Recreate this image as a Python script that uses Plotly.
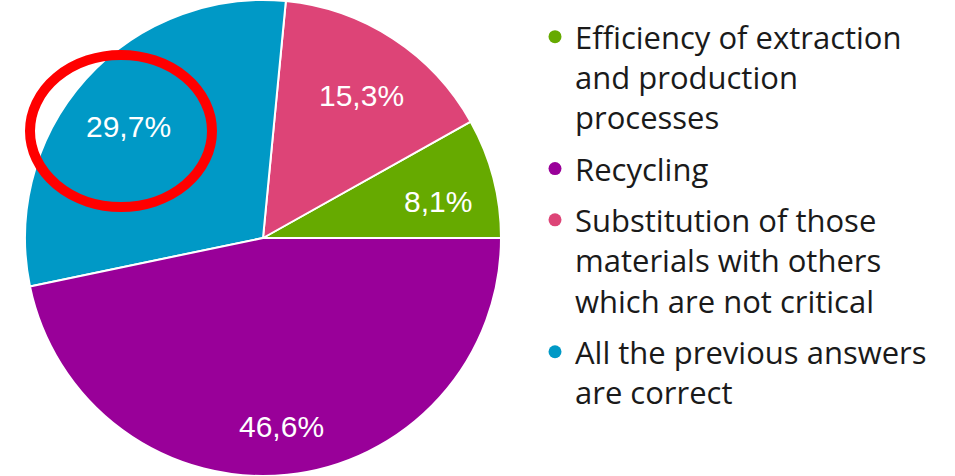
import math
import plotly.graph_objects as go

# Survey answers (percent of respondents), in slice order counter-clockwise from 3 o'clock
slice_labels = [
    "Efficiency of extraction and production processes",
    "Substitution of those materials with others which are not critical",
    "All the previous answers are correct",
    "Recycling",
]
slice_values = [8.1, 15.3, 29.7, 46.6]
slice_colors = ["#66aa00", "#dd4477", "#0099c6", "#990099"]

# Legend entries, in the order they are listed
legend_names = [
    "Efficiency of extraction<br>and production<br>processes",
    "Recycling",
    "Substitution of those<br>materials with others<br>which are not critical",
    "All the previous answers<br>are correct",
]
legend_colors = ["#66aa00", "#990099", "#dd4477", "#0099c6"]

W, H = 955, 476
pie_x = [25 / W, 501 / W]
pie_y = [0.0, 1.0]

# Plotly anchors the END of the first slice at `rotation` when going counter-clockwise,
# so offset by the first slice's angle to make it start at 3 o'clock.
total = sum(slice_values)
first_angle = 360 * slice_values[0] / total

fig = go.Figure()
fig.add_trace(go.Pie(
    labels=slice_labels,
    values=slice_values,
    sort=False,
    direction="counterclockwise",
    rotation=90 - first_angle,
    marker=dict(colors=slice_colors, line=dict(color="white", width=2)),
    textinfo="none",
    showlegend=False,
    hoverinfo="label+value",
    domain=dict(x=pie_x, y=pie_y),
))

# Percentage labels sit on each slice's bisector, about 3/4 of the way out
cx = (pie_x[0] + pie_x[1]) / 2 * W
cy = (1 - (pie_y[0] + pie_y[1]) / 2) * H
radius = min((pie_x[1] - pie_x[0]) * W, (pie_y[1] - pie_y[0]) * H) / 2
start = 0.0
for v in slice_values:
    sweep = 360 * v / total
    mid = math.radians(start + sweep / 2)
    px = cx + 0.76 * radius * math.cos(mid)
    py = cy - 0.76 * radius * math.sin(mid)
    fig.add_annotation(
        x=px / W, y=1 - py / H, xref="paper", yref="paper",
        text=f"{v:.1f}%".replace(".", ","), showarrow=False,
        font=dict(family="Liberation Sans, Arial", size=30, color="white"),
        xanchor="center", yanchor="middle", yshift=-9,
    )
    start += sweep

for name, color in zip(legend_names, legend_colors):
    fig.add_trace(go.Scatter(
        x=[None], y=[None], mode="markers",
        marker=dict(color=color, size=13, symbol="circle"),
        name=name, legendgroup=name, showlegend=True,
    ))

# Red ring drawn around the 29,7% label
fig.add_shape(
    type="circle", xref="paper", yref="paper",
    x0=30 / W, x1=212 / W, y0=1 - 207 / H, y1=1 - 55 / H,
    line=dict(color="#ff0000", width=10),
)

fig.update_layout(
    width=W, height=H,
    margin=dict(l=0, r=0, t=0, b=0),
    paper_bgcolor="white", plot_bgcolor="white",
    separators=",.",
    xaxis=dict(visible=False), yaxis=dict(visible=False),
    legend=dict(
        x=535 / W, xanchor="left", y=1 - 10 / H, yanchor="top",
        font=dict(family="Open Sans", size=31, color="#1a1a1a"),
        traceorder="grouped", tracegroupgap=8, valign="top",
        itemwidth=30, bgcolor="rgba(0,0,0,0)",
    ),
)

fig.write_html("out.html")
